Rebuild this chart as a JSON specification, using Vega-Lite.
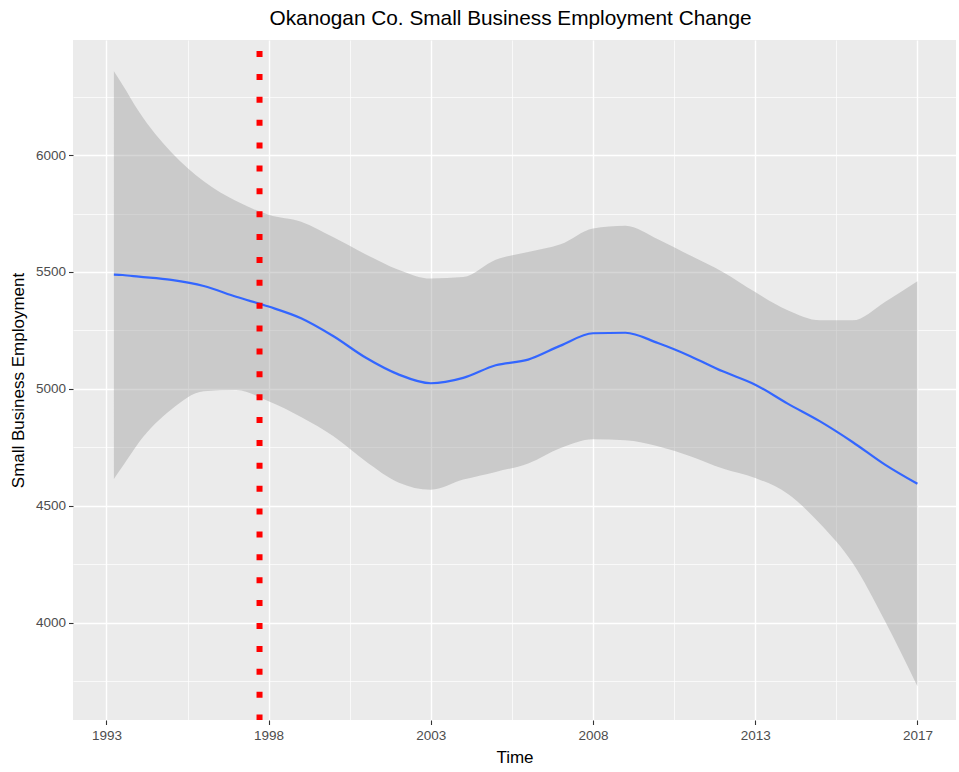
{
  "$schema": "https://vega.github.io/schema/vega-lite/v6.json",
  "width": 883,
  "height": 680,
  "autosize": {"type": "none"},
  "padding": {"left": 73, "top": 40, "right": 3, "bottom": 52},
  "background": "white",
  "title": {
    "text": "Okanogan Co. Small Business Employment Change",
    "anchor": "middle",
    "frame": "group",
    "fontSize": 20.8,
    "fontWeight": "normal",
    "color": "#000000",
    "font": "Liberation Sans",
    "offset": 7,
    "dx": -4
  },
  "config": {
    "view": {"fill": "#EBEBEB", "stroke": null},
    "font": "Liberation Sans",
    "axis": {
      "gridColor": "#FFFFFF",
      "domain": false,
      "tickColor": "#333333",
      "tickSize": 4.5,
      "tickWidth": 1.1,
      "labelColor": "#4D4D4D",
      "labelFontSize": 13.5,
      "labelFont": "Liberation Sans",
      "titleFont": "Liberation Sans",
      "titleFontSize": 17,
      "titleFontWeight": "normal",
      "titleColor": "#000000"
    }
  },
  "datasets": {
    "smooth": [
      {"t": 0.23, "fit": 5489, "lo": 4615, "hi": 6358},
      {"t": 0.5, "fit": 5487, "lo": 4669, "hi": 6300},
      {"t": 1, "fit": 5480, "lo": 4771, "hi": 6186},
      {"t": 2, "fit": 5466, "lo": 4912, "hi": 6012},
      {"t": 3, "fit": 5440, "lo": 4990, "hi": 5888},
      {"t": 4, "fit": 5394, "lo": 4995, "hi": 5803},
      {"t": 5, "fit": 5352, "lo": 4947, "hi": 5745},
      {"t": 6, "fit": 5302, "lo": 4880, "hi": 5715},
      {"t": 7, "fit": 5225, "lo": 4797, "hi": 5648},
      {"t": 8, "fit": 5133, "lo": 4690, "hi": 5575},
      {"t": 9, "fit": 5062, "lo": 4600, "hi": 5510},
      {"t": 10, "fit": 5024, "lo": 4569, "hi": 5472},
      {"t": 11, "fit": 5047, "lo": 4612, "hi": 5478},
      {"t": 12, "fit": 5101, "lo": 4645, "hi": 5552},
      {"t": 13, "fit": 5125, "lo": 4681, "hi": 5585},
      {"t": 14, "fit": 5185, "lo": 4747, "hi": 5618},
      {"t": 15, "fit": 5238, "lo": 4785, "hi": 5686},
      {"t": 16, "fit": 5240, "lo": 4780, "hi": 5698},
      {"t": 17, "fit": 5196, "lo": 4755, "hi": 5640},
      {"t": 18, "fit": 5140, "lo": 4712, "hi": 5570},
      {"t": 19, "fit": 5075, "lo": 4659, "hi": 5500},
      {"t": 20, "fit": 5018, "lo": 4619, "hi": 5414},
      {"t": 21, "fit": 4937, "lo": 4552, "hi": 5336},
      {"t": 22, "fit": 4861, "lo": 4423, "hi": 5293},
      {"t": 23, "fit": 4773, "lo": 4256, "hi": 5293},
      {"t": 24, "fit": 4676, "lo": 4007, "hi": 5372},
      {"t": 25, "fit": 4594, "lo": 3728, "hi": 5460}
    ],
    "event": [{"t": 4.72}]
  },
  "layer": [
    {
      "data": {"name": "smooth"},
      "mark": {"type": "area", "fill": "#999999", "fillOpacity": 0.4, "interpolate": "monotone"},
      "encoding": {
        "x": {
          "field": "t", "type": "quantitative",
          "scale": {"domain": [-1.03, 26.19], "nice": false, "zero": false},
          "axis": {"orient": "bottom", "values": [2.5, 7.5, 12.5, 17.5, 22.5], "grid": true, "gridWidth": 0.7, "labels": false, "ticks": false, "title": null}
        },
        "y": {
          "field": "lo", "type": "quantitative",
          "scale": {"domain": [3584, 6492], "nice": false, "zero": false},
          "axis": {"orient": "left", "values": [3750, 4250, 4750, 5250, 5750, 6250], "grid": true, "gridWidth": 0.7, "labels": false, "ticks": false, "title": null}
        },
        "y2": {"field": "hi"}
      }
    },
    {
      "data": {"name": "smooth"},
      "mark": {"type": "line", "color": "#3366FF", "strokeWidth": 2.2, "interpolate": "monotone"},
      "encoding": {
        "x": {
          "field": "t", "type": "quantitative",
          "scale": {"domain": [-1.03, 26.19], "nice": false, "zero": false},
          "axis": {"orient": "bottom", "values": [0, 5, 10, 15, 20, 25], "grid": true, "gridWidth": 1.4,
                   "labelExpr": "datum.value == 25 ? '2017' : '' + (1993 + datum.value)",
                   "labelPadding": 4, "title": "Time", "titlePadding": 7}
        },
        "y": {
          "field": "fit", "type": "quantitative",
          "scale": {"domain": [3584, 6492], "nice": false, "zero": false},
          "axis": {"orient": "left", "values": [4000, 4500, 5000, 5500, 6000], "grid": true, "gridWidth": 1.4,
                   "format": "d", "labelPadding": 3, "title": "Small Business Employment", "titlePadding": 8}
        }
      }
    },
    {
      "data": {"name": "event"},
      "mark": {"type": "rule", "color": "#FF0000", "strokeWidth": 6, "strokeDash": [6, 16.88], "strokeDashOffset": 11.88, "strokeCap": "butt"},
      "encoding": {
        "x": {"field": "t", "type": "quantitative", "scale": {"domain": [-1.03, 26.19], "nice": false, "zero": false}, "axis": null}
      }
    }
  ],
  "resolve": {"axis": {"x": "independent", "y": "independent"}}
}
